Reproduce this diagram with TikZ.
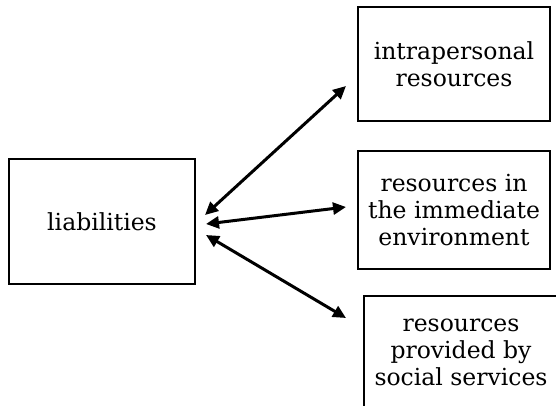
\documentclass[tikz,border=0pt]{standalone}
\usepackage{fontspec}
\setmainfont{DejaVu Serif}
\usetikzlibrary{arrows.meta}
\begin{document}
\begin{tikzpicture}[x=1pt,y=-1pt,
  box/.style={draw=black, line width=2pt, align=center, inner sep=0pt,
    font=\fontsize{23.5}{27}\selectfont},
  dbl/.style={line width=3pt, {Triangle[length=13pt,width=12pt]}-{Triangle[length=13pt,width=12pt]}}]
\useasboundingbox (0,0) rectangle (556,406);
\node[box, minimum width=186pt, minimum height=125pt] (L) at (102,221.5) {liabilities};
\node[box, minimum width=192pt, minimum height=114pt] (A) at (454,64) {intrapersonal\\resources};
\node[box, minimum width=192pt, minimum height=117pt] (B) at (454,210) {resources in\\the immediate\\environment};
\node[box, minimum width=194pt, minimum height=112pt] (C) at (461,352) {resources\\provided by\\social services};
\draw[dbl] ([shift={(9,-6.5)}]L.east) -- ([shift={(-11,22)}]A.west);
\draw[dbl] ([shift={(10,2.5)}]L.east) -- ([shift={(-11,-3)}]B.west);
\draw[dbl] ([shift={(10,13.5)}]L.east) -- ([shift={(-17,-34)}]C.west);
\end{tikzpicture}
\end{document}
